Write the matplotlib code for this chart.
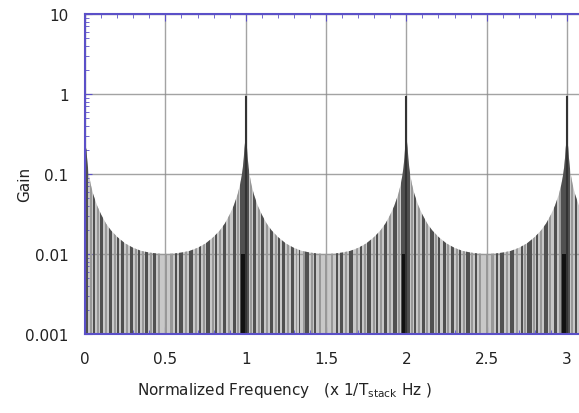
import matplotlib.pyplot as plt
import numpy as np
from matplotlib.patches import Polygon

# Envolvente de un lóbulo (distancia al pico entero -> ganancia).
lobe_dist = [0.0, 0.002, 0.004, 0.008, 0.012, 0.018, 0.025, 0.035, 0.05, 0.075,
             0.1, 0.13, 0.16, 0.2, 0.25, 0.3, 0.35, 0.4, 0.45, 0.5]
lobe_gain = [1.0, 0.9, 0.25, 0.21, 0.16, 0.12, 0.095, 0.074, 0.056, 0.04,
             0.031, 0.024, 0.0198, 0.0163, 0.0135, 0.0119, 0.0109, 0.0104, 0.0101, 0.0100]
peaks = [0, 1, 2, 3]
peak_at_zero = 0.2

# Franjas grises dentro de un periodo (inicio, ancho, tono)
D, M = '#505050', '#989898'
stripe_start = [0.000, 0.028, 0.048, 0.075, 0.095, 0.125, 0.148, 0.180, 0.200, 0.225,
                0.255, 0.280, 0.310, 0.330, 0.355, 0.372, 0.405, 0.425, 0.455, 0.495,
                0.530, 0.560, 0.585, 0.620, 0.645, 0.685, 0.712, 0.735, 0.752, 0.790,
                0.810, 0.835, 0.858, 0.890, 0.918, 0.948, 0.965]
stripe_width = [0.020, 0.012, 0.015, 0.012, 0.018, 0.012, 0.022, 0.012, 0.012, 0.020,
                0.012, 0.018, 0.012, 0.010, 0.012, 0.022, 0.012, 0.015, 0.012, 0.012,
                0.015, 0.012, 0.022, 0.012, 0.025, 0.012, 0.012, 0.012, 0.028, 0.012,
                0.012, 0.012, 0.022, 0.012, 0.022, 0.012, 0.035]
stripe_shade = [D, M, D, M, D, M, D, M, D, D,
                M, D, M, D, M, D, M, D, M, M,
                M, D, D, M, D, M, D, M, D, M,
                D, M, D, M, D, M, D]

# Zonas negras en la base cerca de los picos
black_start = [0.0, 0.985]
black_width = [0.02, 0.03]
black_top = [0.005, 0.009]

spine_col = '#5b50c8'
text_col = '#222222'

fig = plt.figure(figsize=(5.79, 4.14), dpi=100)
ax = fig.add_axes([0.147, 0.191, 0.86, 0.773])

# Construye la envolvente completa a partir del lóbulo leído
d = np.array(lobe_dist)
g = np.array(lobe_gain)
xs, ys = [], []
for p in peaks:
    if p == 0:
        gg = g.copy()
        gg[:3] = peak_at_zero
        xs += list(p + d)
        ys += list(gg)
        continue
    xs += list(p - d[::-1][1:])
    ys += list(g[::-1][1:])
    xs += list(p + d[1:])
    ys += list(g[1:])
xs = np.array(xs)
ys = np.array(ys)

verts = list(zip(xs, ys)) + [(xs[-1], 0.0009), (xs[0], 0.0009)]
env = Polygon(verts, closed=True, facecolor='#c8c8c8', edgecolor='none', zorder=1)
ax.add_patch(env)

for p in peaks:
    bars = ax.bar([p + s for s in stripe_start], [10] * len(stripe_start),
                  width=stripe_width, bottom=0.0009, align='edge',
                  color=stripe_shade, linewidth=0, zorder=2)
    for b in bars:
        b.set_clip_path(env)
    blk = ax.bar([p - 0.015 + s for s in black_start], black_top, width=black_width,
                 bottom=0.0009, align='edge', color='#111111', linewidth=0, zorder=2)
    for b in blk:
        b.set_clip_path(env)
    if p > 0:
        ax.vlines(p, 0.0009, 0.95, color='#333333', linewidth=1.5, zorder=3)

ax.set_yscale('log')
ax.set_xlim(0, 3.10)
ax.set_ylim(0.001, 10)
ax.set_xticks([0, 0.5, 1, 1.5, 2, 2.5, 3])
ax.set_xticklabels(['0', '0.5', '1', '1.5', '2', '2.5', '3'])
ax.set_xticks(np.arange(0, 3.11, 0.1), minor=True)
ax.set_yticks([0.001, 0.01, 0.1, 1, 10])
ax.set_yticklabels(['0.001', '0.01', '0.1', '1', '10'])
ax.grid(True, which='major', color='#8c8c8c', linewidth=1.0)
for ln in ax.get_xgridlines() + ax.get_ygridlines():
    ln.set_zorder(4)
    ln.set_alpha(0.8)

ax.tick_params(which='both', direction='in', top=True, right=False, colors=spine_col,
               labelcolor=text_col, labelsize=11, pad=12)
ax.tick_params(which='major', length=5)
ax.tick_params(which='minor', length=3)
for s in ['left', 'top', 'bottom']:
    ax.spines[s].set_color(spine_col)
    ax.spines[s].set_linewidth(1.5)
    ax.spines[s].set_zorder(5)
ax.spines['right'].set_visible(False)

ax.set_xlabel('Normalized Frequency   (x 1/T$_{\\mathregular{stack}}$ Hz )', fontsize=11,
              color=text_col)
ax.xaxis.set_label_coords(0.40, -0.145)
ax.set_ylabel('Gain', fontsize=11, color=text_col)
ax.yaxis.set_label_coords(-0.106, 0.47)

plt.savefig('out.png', dpi=100)
